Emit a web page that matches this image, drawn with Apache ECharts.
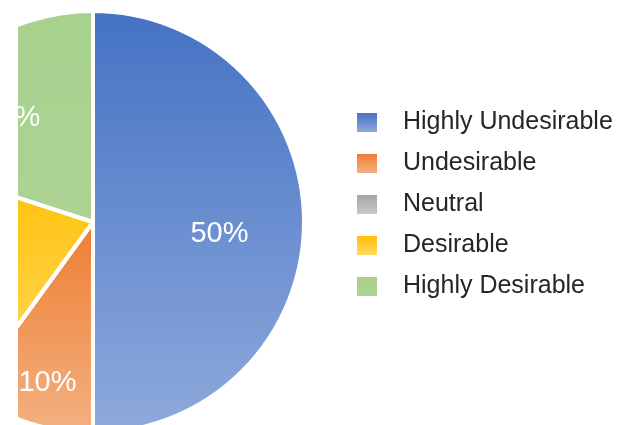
<!DOCTYPE html>
<html>
<head>
<meta charset="utf-8">
<script src="https://cdn.jsdelivr.net/npm/echarts@6/dist/echarts.min.js"></script>
<style>
  html, body { margin: 0; padding: 0; background: #fff; }
  #wrap { position: relative; width: 617px; height: 425px; overflow: hidden; }
  /* the pie is cut at the left, the chart area starts 18px in */
  #chart { position: absolute; left: 18px; top: 0; width: 599px; height: 425px; }
</style>
</head>
<body>
<div id="wrap"><div id="chart"></div></div>
<script>
// data
const categories = ['Highly Undesirable', 'Undesirable', 'Neutral', 'Desirable', 'Highly Desirable'];
const values = [50, 10, 0, 20, 20];

// top / bottom colours of each slice gradient
const topColors = ['#4472C4', '#ED7D31', '#A5A5A5', '#FFC000', '#A9D18E'];
const bottomColors = ['#8FAADC', '#F4B183', '#C9C9C9', '#FFD966', '#ACD392'];

// label nudges (Excel puts the labels off the mid radius)
const labelOffsets = [[18, 12], [-12, 58], [0, 0], [-40, 0], [-18, -16]];

const FONT = '"Liberation Sans", Arial, sans-serif';

const chart = echarts.init(document.getElementById('chart'), null, { renderer: 'canvas' });

const option = {
  animation: false,
  legend: {
    orient: 'vertical',
    left: 339,
    top: 110,
    padding: 0,
    itemWidth: 20,
    itemHeight: 19,
    itemGap: 16,
    icon: 'rect',
    selectedMode: false,
    data: categories,
    itemStyle: { borderWidth: 0 },
    textStyle: {
      color: '#262626',
      fontSize: 25,
      fontFamily: FONT,
      padding: [0, 0, 0, 21],
    },
  },
  series: [
    {
      type: 'pie',
      center: [75, 222],
      radius: [0, 211],
      startAngle: 90,
      clockwise: true,
      avoidLabelOverlap: false,
      stillShowZeroSum: true,
      itemStyle: {
        borderColor: '#ffffff',
        borderWidth: 4,
      },
      label: {
        show: true,
        position: 'inside',
        color: '#ffffff',
        fontSize: 29,
        fontFamily: FONT,
        formatter: (p) => p.value + '%',
      },
      labelLine: { show: false },
      emphasis: { disabled: true },
      data: categories.map((name, i) => ({
        name: name,
        value: values[i],
        itemStyle: {
          color: new echarts.graphic.LinearGradient(0, 0, 0, 1, [
            { offset: 0, color: topColors[i] },
            { offset: 1, color: bottomColors[i] },
          ]),
        },
        label: {
          show: values[i] > 0,
          offset: labelOffsets[i],
        },
      })),
    },
  ],
};

chart.setOption(option);
</script>
</body>
</html>
